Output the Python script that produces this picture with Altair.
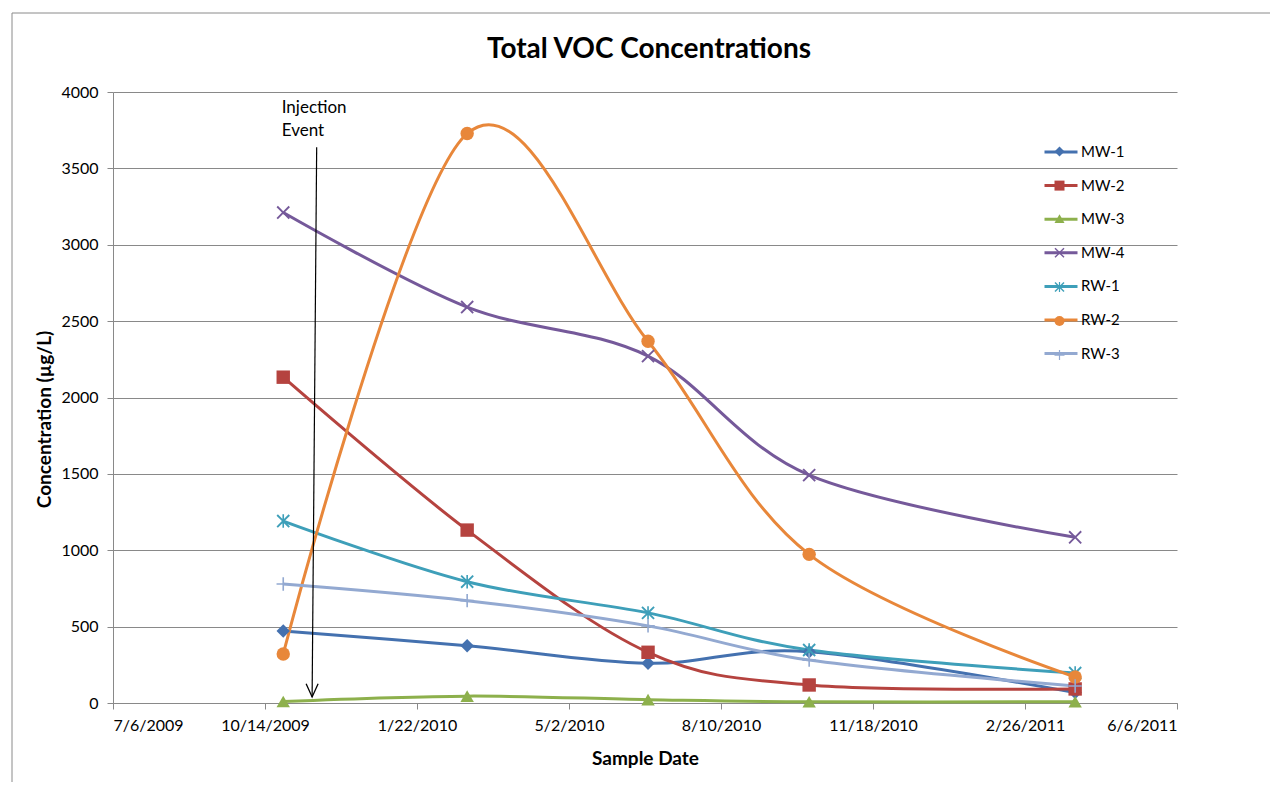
import altair as alt
import pandas as pd

# ---------------- data ----------------
sample_dates = ["2009-10-26", "2010-02-24", "2010-06-23", "2010-10-07", "2011-03-31"]
series_names = ["MW-1", "MW-2", "MW-3", "MW-4", "RW-1", "RW-2", "RW-3"]
mw1 = [471, 375, 260, 336, 68]
mw2 = [2133, 1132, 332, 118, 92]
mw3 = [10, 45, 22, 8, 8]
mw4 = [3211, 2592, 2271, 1492, 1085]
rw1 = [1191, 794, 590, 347, 196]
rw2 = [321, 3728, 2368, 973, 170]
rw3 = [779, 670, 505, 281, 111]
series_values = [mw1, mw2, mw3, mw4, rw1, rw2, rw3]
series_colors = ["#4471AF", "#B5433F", "#8DB04C", "#75599A", "#3E9FB9", "#E8873A", "#93A9D1"]

x_path = "M0,0.2L0.8,1L1,0.8L0.2,0L1,-0.8L0.8,-1L0,-0.2L-0.8,-1L-1,-0.8L-0.2,0L-1,0.8L-0.8,1Z"
star_path = x_path + "M-0.12,-1L-0.12,1L0.12,1L0.12,-1Z"
plus_path = ("M-0.12,-1L0.12,-1L0.12,-0.12L1,-0.12L1,0.12L0.12,0.12L0.12,1L-0.12,1"
             "L-0.12,0.12L-1,0.12L-1,-0.12L-0.12,-0.12Z")
series_shapes = ["diamond", "square", "triangle-up", x_path, star_path, "circle", plus_path]

tick_dates = [(2009, 7, 6), (2009, 10, 14), (2010, 1, 22), (2010, 5, 2),
              (2010, 8, 10), (2010, 11, 18), (2011, 2, 26), (2011, 6, 6)]
y_ticks = [0, 500, 1000, 1500, 2000, 2500, 3000, 3500, 4000]

# annotation ("Injection Event")
ann_text = ["Injection", "Event"]
ann_text_date = ["2009-10-25", "2009-10-25"]
ann_text_y = [3894, 3743]
arrow_dates = ["2009-11-17", "2009-11-14"]
arrow_y = [3639, 39]

# ---------------- tables ----------------
rows = []
for name, vals in zip(series_names, series_values):
    for d, v in zip(sample_dates, vals):
        rows.append({"series": name, "date": d, "value": v})
df = pd.DataFrame(rows)
ann_df = pd.DataFrame({"date": ann_text_date, "value": ann_text_y, "label": ann_text})
arrow_df = pd.DataFrame({"date": arrow_dates, "value": arrow_y})
tip_df = arrow_df.iloc[[1]]
frame_df = pd.DataFrame({"k": [0]})

FONT = "Lato"
AX_COL = "#898989"

tick_vals = [alt.DateTime(year=y, month=m, date=d, utc=True) for (y, m, d) in tick_dates]
x_scale = alt.Scale(type="utc", domain=[tick_vals[0], tick_vals[-1]])
y_scale = alt.Scale(domain=[0, 4000], nice=False)

x_axis = alt.Axis(values=tick_vals, labelExpr="utcFormat(datum.value, '%-m/%-d/%Y')",
                  grid=False, title="Sample Date", tickSize=6, labelPadding=8,
                  titleX=532, titleY=55, titleBaseline="middle")
y_axis = alt.Axis(values=y_ticks, format="d", title="Concentration (µg/L)", tickSize=6,
                  labelPadding=9, titleX=-69, titleY=327, titleBaseline="middle")

X = alt.X("date:T", scale=x_scale, axis=x_axis)
Xn = alt.X("date:T", scale=x_scale)
Y = alt.Y("value:Q", scale=y_scale, axis=y_axis)
Yn = alt.Y("value:Q", scale=y_scale)

line_legend = alt.Legend(orient="none", legendX=930, legendY=42, title=None,
                         symbolType="stroke", symbolSize=1089, symbolStrokeWidth=3,
                         labelFont=FONT, labelFontSize=15, labelColor="black",
                         rowPadding=7.6, labelOffset=2, padding=0)
point_legend = alt.Legend(orient="none", legendX=939, legendY=52, title=None,
                          labelExpr="''", labelFontSize=15, rowPadding=17.1, padding=0)

frame = alt.Chart(frame_df).mark_rect(fill="white", fillOpacity=0, stroke="#8a8a8a",
                                      strokeWidth=1).encode(
    x=alt.value(-101), x2=alt.value(1200), y=alt.value(-79), y2=alt.value(800))

lines = alt.Chart(df).mark_line(interpolate="cardinal", strokeWidth=3).encode(
    x=X, y=Y,
    color=alt.Color("series:N", scale=alt.Scale(range=series_colors), legend=line_legend))

points = alt.Chart(df).mark_point(filled=True, size=180, opacity=1).encode(
    x=Xn, y=Yn,
    fill=alt.Fill("series:N", scale=alt.Scale(domain=series_names, range=series_colors),
                  legend=point_legend),
    shape=alt.Shape("series:N", scale=alt.Scale(domain=series_names, range=series_shapes),
                    legend=point_legend))

arrow = alt.Chart(arrow_df).mark_line(color="black", strokeWidth=1.2).encode(x=Xn, y=Yn)
tip = alt.Chart(tip_df).mark_point(shape="M-1,-2.2L0,0L1,-2.2", filled=False, color="black",
                                   strokeWidth=1.3, size=144, opacity=1).encode(x=Xn, y=Yn)
ann = alt.Chart(ann_df).mark_text(align="left", baseline="middle", font=FONT, fontSize=17,
                                  color="black").encode(x=Xn, y=Yn, text="label:N")

chart = alt.layer(frame, lines, points, arrow, tip, ann).properties(
    width=1064, height=611,
    autosize=alt.AutoSizeParams(type="none"),
    padding={"left": 105, "top": 84, "right": 93, "bottom": 79},
    title=alt.TitleParams("Total VOC Concentrations", font=FONT, fontSize=28,
                          fontWeight="bold", color="black", anchor="middle",
                          frame="group", baseline="bottom", offset=0, dx=4, dy=79),
).configure_view(stroke=None).configure_axis(
    labelFont=FONT, labelFontSize=16, labelColor="black",
    titleFont=FONT, titleFontSize=19, titleFontWeight="bold", titleColor="black",
    domainColor=AX_COL, tickColor=AX_COL, gridColor=AX_COL, gridOpacity=1,
    domainWidth=1, tickWidth=1, gridWidth=1,
)

chart.save("out.html", embed_options={"renderer": "svg", "actions": False})
